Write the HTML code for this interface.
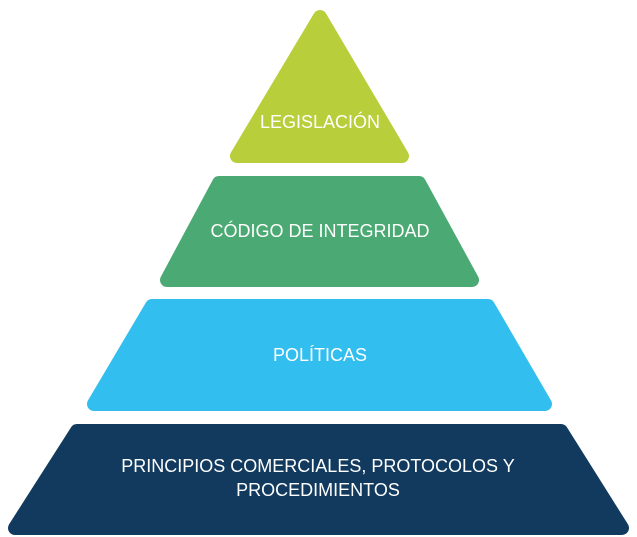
<!DOCTYPE html>
<html><head><meta charset="utf-8"><style>
html,body{margin:0;padding:0;background:#fff;}
svg{display:block;}
text{font-family:"Liberation Sans",sans-serif;font-size:18px;fill:#fff;text-anchor:middle;dominant-baseline:central;}
</style></head><body>
<svg width="637" height="537" viewBox="0 0 637 537" xmlns="http://www.w3.org/2000/svg">
<g stroke-linejoin="round" stroke-width="14">
<polygon points="320,17 237,156 402,156" fill="#b8ce3a" stroke="#b8ce3a"/>
<polygon points="219,183 419,183 472,280 167,280" fill="#4ba973" stroke="#4ba973"/>
<polygon points="152,306 488,306 545,404 94,404" fill="#32beee" stroke="#32beee"/>
<polygon points="77,431 561,431 622,528 15,528" fill="#113a5e" stroke="#113a5e"/>
</g>
<text x="320" y="122">LEGISLACIÓN</text>
<text x="320" y="231">CÓDIGO DE INTEGRIDAD</text>
<text x="320" y="355">POLÍTICAS</text>
<text x="318" y="466">PRINCIPIOS COMERCIALES, PROTOCOLOS Y</text>
<text x="318" y="490">PROCEDIMIENTOS</text>
</svg>
</body></html>
